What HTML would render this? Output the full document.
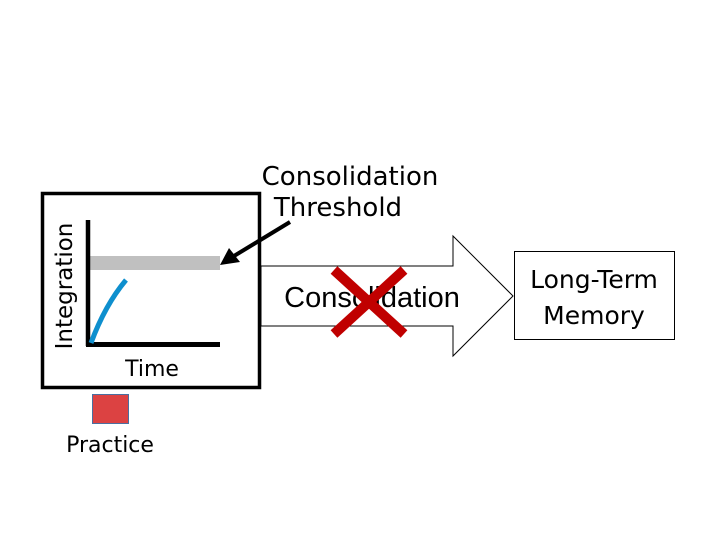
<!DOCTYPE html>
<html><head><style>
html,body{margin:0;padding:0;background:#fff;}
svg{display:block;}
text{font-family:"DejaVu Sans","Liberation Sans",sans-serif;fill:#000;}
text.arial{font-family:"Liberation Sans",sans-serif;}
</style></head><body>
<svg width="720" height="540" viewBox="0 0 720 540">
<rect x="0" y="0" width="720" height="540" fill="#fff"/>
<polygon points="261,266 453,266 453,236 513,296 453,356 453,326 261,326" fill="#fff" stroke="#000" stroke-width="1"/>
<rect x="42.5" y="193.5" width="217" height="194" fill="none" stroke="#000" stroke-width="3.5"/>
<rect x="90" y="256" width="130" height="14" fill="#c0c0c0"/>
<line x1="88" y1="220" x2="88" y2="346" stroke="#000" stroke-width="4.5"/>
<line x1="86" y1="344.5" x2="220" y2="344.5" stroke="#000" stroke-width="5"/>
<path d="M91,343 Q105,305 126,280" fill="none" stroke="#0e8fce" stroke-width="5"/>
<line x1="290" y1="222" x2="234" y2="256" stroke="#000" stroke-width="4"/>
<polygon points="220,265 229,248 240,262" fill="#000"/>
<text x="350" y="185" font-size="26" text-anchor="middle">Consolidation</text>
<text x="338" y="216" font-size="26" text-anchor="middle">Threshold</text>
<text x="0" y="0" font-size="23" text-anchor="middle" transform="translate(72,286) rotate(-90)">Integration</text>
<text x="152" y="376" font-size="22" text-anchor="middle">Time</text>
<rect x="92.5" y="394.5" width="36" height="29" fill="#dc4242" stroke="#4a6fa0" stroke-width="1"/>
<text x="110" y="452" font-size="22" text-anchor="middle">Practice</text>
<text class="arial" x="372" y="307" font-size="29" text-anchor="middle">Consolidation</text>
<line x1="334" y1="270" x2="404" y2="334" stroke="#c00000" stroke-width="10"/>
<line x1="404" y1="270" x2="334" y2="334" stroke="#c00000" stroke-width="10"/>
<rect x="514.5" y="251.5" width="160" height="88" fill="#fff" stroke="#000" stroke-width="1"/>
<text x="594" y="288" font-size="25" text-anchor="middle">Long-Term</text>
<text x="594" y="324" font-size="25" text-anchor="middle">Memory</text>
</svg>
</body></html>
